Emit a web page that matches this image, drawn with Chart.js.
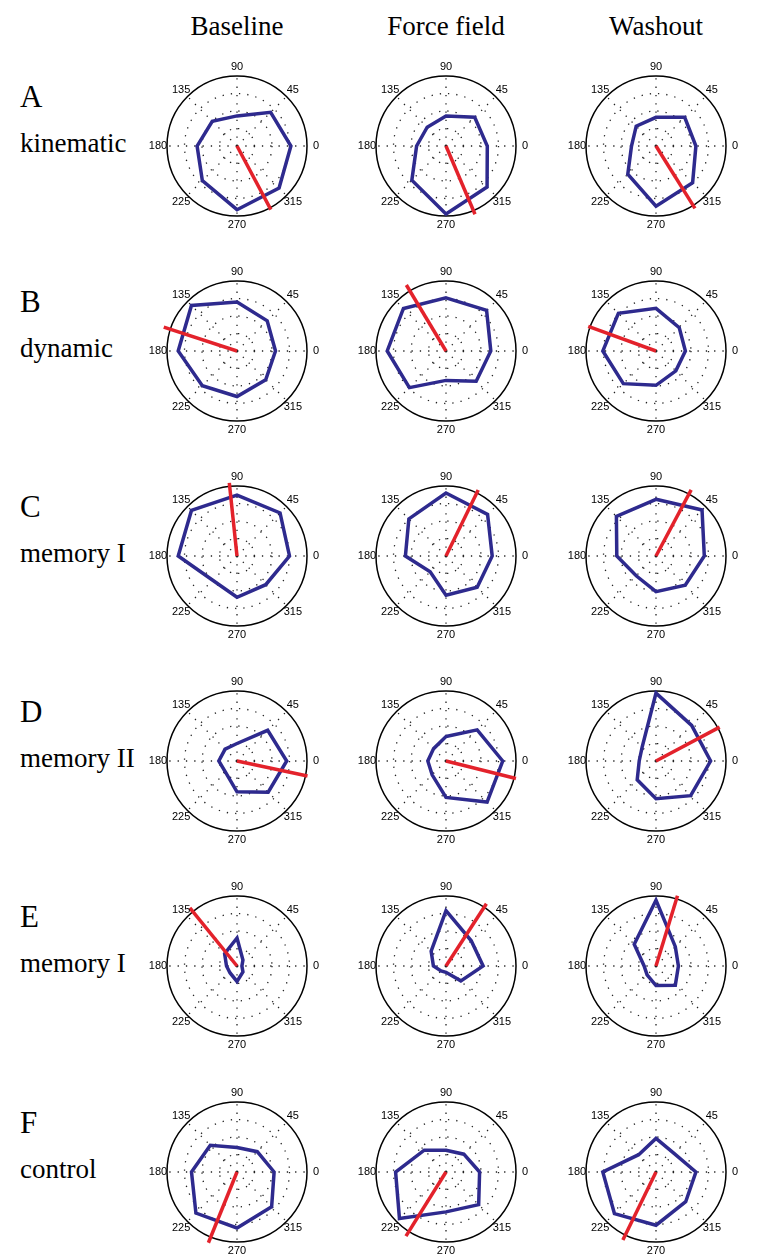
<!DOCTYPE html>
<html>
<head>
<meta charset="utf-8">
<script src="https://cdn.jsdelivr.net/npm/chart.js@4.4.1/dist/chart.umd.min.js"></script>
<style>
  body { margin: 0; background: #fff; }
  #fig { position: relative; width: 761px; height: 1254px; overflow: hidden; }
  #fig canvas { position: absolute; }
  .txt { position: absolute; font-family: "Liberation Serif", "Times New Roman", serif; line-height: 1; white-space: nowrap; color: #000; }
</style>
</head>
<body>
<div id="fig"></div>
<script>
// direction labels, clockwise from the top (radar order)
const dirLabels = ['90', '45', '0', '315', '270', '225', '180', '135'];
const conditions = ['Baseline', 'Force field', 'Washout'];
const rowLetters = ['A', 'B', 'C', 'D', 'E', 'F'];
const rowNames = ['kinematic', 'dynamic', 'memory I', 'memory II', 'memory I', 'control'];

// tuning curves, radius relative to outer ring, in dirLabels order
// [Baseline, Force field, Washout]
const kinematicCurves = [
    [0.43, 0.68, 0.77, 0.85, 0.91, 0.70, 0.57, 0.50],
    [0.43, 0.58, 0.59, 0.83, 0.97, 0.69, 0.42, 0.38],
    [0.41, 0.58, 0.57, 0.74, 0.86, 0.57, 0.35, 0.40]
];
const dynamicCurves = [
    [0.70, 0.61, 0.55, 0.58, 0.65, 0.70, 0.84, 0.92],
    [0.76, 0.82, 0.64, 0.61, 0.42, 0.74, 0.84, 0.86],
    [0.61, 0.47, 0.42, 0.40, 0.49, 0.66, 0.76, 0.76]
];
const memory1Curves = [
    [0.87, 0.87, 0.75, 0.58, 0.59, 0.49, 0.84, 0.92],
    [0.90, 0.84, 0.66, 0.63, 0.56, 0.32, 0.58, 0.75],
    [0.81, 0.93, 0.69, 0.59, 0.51, 0.40, 0.56, 0.80]
];
const memory2Curves = [
    [0.25, 0.62, 0.71, 0.63, 0.44, 0.23, 0.26, 0.24],
    [0.35, 0.63, 0.81, 0.83, 0.52, 0.28, 0.26, 0.25],
    [0.97, 0.72, 0.78, 0.70, 0.54, 0.38, 0.24, 0.28]
];
const memory1bCurves = [
    [0.40, 0.12, 0.07, 0.12, 0.22, 0.14, 0.15, 0.25],
    [0.79, 0.51, 0.53, 0.30, 0.09, 0.10, 0.18, 0.30],
    [0.94, 0.39, 0.32, 0.39, 0.28, 0.18, 0.17, 0.44]
];
const controlCurves = [
    [0.35, 0.41, 0.53, 0.70, 0.80, 0.83, 0.65, 0.54],
    [0.31, 0.36, 0.48, 0.66, 0.57, 0.94, 0.72, 0.44],
    [0.48, 0.37, 0.57, 0.60, 0.76, 0.84, 0.76, 0.35]
];

// preferred direction vectors: [angle in deg, length]
const kinematicPD = [[298, 1.03], [293, 1.06], [302, 1.05]];
const dynamicPD = [[162, 1.10], [121, 1.10], [160, 1.03]];
const memory1PD = [[96, 1.05], [64, 1.05], [62, 1.07]];
const memory2PD = [[348, 1.03], [346, 1.03], [28, 1.03]];
const memory1bPD = [[129, 1.07], [57, 1.06], [73, 1.05]];
const controlPD = [[248, 1.09], [238, 1.08], [244, 1.08]];

const allCurves = [kinematicCurves, dynamicCurves, memory1Curves, memory2Curves, memory1bCurves, controlCurves];
const allPD = [kinematicPD, dynamicPD, memory1PD, memory2PD, memory1bPD, controlPD];

// layout
const colX = [237, 446, 656];
const rowY = [146, 351, 556, 761, 966, 1172];
const R = 70;
const box = 200;

const fig = document.getElementById('fig');

function addText(str, x, y, size, center) {
    const d = document.createElement('div');
    d.className = 'txt';
    d.textContent = str;
    d.style.fontSize = size + 'px';
    d.style.left = x + 'px';
    d.style.top = (y - 0.84 * size) + 'px';
    if (center) d.style.transform = 'translateX(-50%)';
    fig.appendChild(d);
}

conditions.forEach((c, i) => addText(c, colX[i], 36, 27, true));
rowLetters.forEach((l, i) => addText(l, 20, rowY[i] - 39, 31, false));
rowNames.forEach((n, i) => addText(n, 20, rowY[i] + 7, 27, false));

// red preferred direction line
const pdPlugin = {
    id: 'pd',
    afterDatasetsDraw(chart, args, opts) {
        const s = chart.scales.r;
        const d = s.getDistanceFromCenterForValue(opts.vec[1]);
        const a = opts.vec[0] * Math.PI / 180;
        const ctx = chart.ctx;
        ctx.save();
        ctx.strokeStyle = '#e3222b';
        ctx.lineWidth = 3.5;
        ctx.beginPath();
        ctx.moveTo(s.xCenter, s.yCenter);
        ctx.lineTo(s.xCenter + d * Math.cos(a), s.yCenter - d * Math.sin(a));
        ctx.stroke();
        ctx.restore();
    }
};

// angle labels centred just outside the ring
const dirLabelPlugin = {
    id: 'dirLabels',
    afterDraw(chart) {
        const s = chart.scales.r;
        const ctx = chart.ctx;
        ctx.save();
        ctx.font = '11px "Liberation Sans", Arial, sans-serif';
        ctx.fillStyle = '#000';
        ctx.textAlign = 'center';
        ctx.textBaseline = 'middle';
        chart.data.labels.forEach((lab, i) => {
            const p = s.getPointPosition(i, s.drawingArea + 9);
            ctx.fillText(lab, p.x, p.y);
        });
        ctx.restore();
    }
};

for (let r = 0; r < rowY.length; r++) {
    for (let c = 0; c < colX.length; c++) {
        const cv = document.createElement('canvas');
        cv.width = box;
        cv.height = box;
        cv.style.left = (colX[c] - box / 2) + 'px';
        cv.style.top = (rowY[r] - box / 2) + 'px';
        fig.appendChild(cv);

        new Chart(cv.getContext('2d'), {
            type: 'radar',
            data: {
                labels: dirLabels,
                datasets: [{
                    data: allCurves[r][c],
                    fill: false,
                    borderColor: '#2e2a8e',
                    borderWidth: 3.5,
                    pointRadius: 0,
                    tension: 0
                }]
            },
            options: {
                responsive: false,
                animation: false,
                layout: { padding: (box - 2 * R) / 2 },
                plugins: {
                    legend: { display: false },
                    tooltip: { enabled: false },
                    pd: { vec: allPD[r][c] }
                },
                scales: {
                    r: {
                        min: 0,
                        max: 1,
                        ticks: { display: false, stepSize: 0.25 },
                        pointLabels: { display: false },
                        grid: {
                            circular: true,
                            color: (ctx) => ctx.tick.value === 1 ? '#000' : '#222',
                            lineWidth: (ctx) => ctx.tick.value === 1 ? 1.5 : 1.3
                        },
                        border: {
                            dash: (ctx) => ctx.tick.value === 1 ? [] : [1.3, 7]
                        },
                        angleLines: {
                            color: '#222',
                            lineWidth: 1.3,
                            borderDash: [1.3, 7]
                        }
                    }
                }
            },
            plugins: [pdPlugin, dirLabelPlugin]
        });
    }
}
</script>
</body>
</html>
